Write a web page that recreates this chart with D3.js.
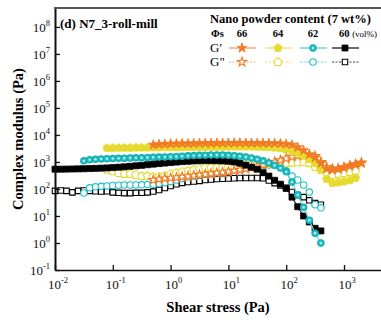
<!DOCTYPE html>
<html>
<head>
<meta charset="utf-8">
<script src="https://cdn.jsdelivr.net/npm/d3@7"></script>
<style>
  body { margin: 0; background: #fff; }
  svg { display: block; font-family: "Liberation Serif", "Times New Roman", serif; }
</style>
</head>
<body>
<div id="chart"></div>
<script>
const width = 381;
const height = 323;

// shear stress grid (Pa), 10 points per decade
const stress = [
  0.01, 0.0126, 0.0158, 0.02, 0.0251, 0.0316, 0.0398, 0.0501, 0.0631, 0.0794,
  0.1, 0.126, 0.158, 0.2, 0.251, 0.316, 0.398, 0.501, 0.631, 0.794,
  1, 1.26, 1.58, 2, 2.51, 3.16, 3.98, 5.01, 6.31, 7.94,
  10, 12.6, 15.8, 20, 25.1, 31.6, 39.8, 50.1, 63.1, 79.4,
  100, 126, 158, 200, 251, 316, 398, 501, 631, 794,
  1000, 1260, 1580, 2000
];

// modulus values (Pa); each list starts at index firstIndex[...] of stress
const gp66 = [4300, 4500, 4600, 4700, 4750, 4800, 4800, 4850, 4900, 4900,
  4950, 5000, 5000, 5000, 5050, 5050, 5000, 5000, 5000, 4950,
  4900, 4900, 4800, 4600, 4300, 3500, 2700, 1900, 1450, 900,
  550, 500, 550, 620, 720, 800, 900];
const gpp66 = [215, 230, 245, 255, 265, 280, 295, 310, 330, 350,
  370, 390, 410, 440, 470, 510, 560, 620, 690, 780,
  880, 1000, 1150, 1350, 1550, 1700, 1800, 1800, 1650, 1000,
  650, 560, 570, 630, 720, 820, 950];
const gp64 = [3300, 3300, 3350, 3350, 3350, 3400, 3400, 3400, 3450, 3450,
  3500, 3500, 3500, 3550, 3550, 3600, 3600, 3600, 3650, 3650,
  3650, 3700, 3700, 3700, 3700, 3700, 3650, 3600, 3500, 3400,
  3200, 2900, 2500, 2100, 1700, 1250, 900, 560, 230, 165,
  175, 190, 210, 255];
const gpp64 = [520, 450, 390, 360, 360, 330, 300, 300, 280, 280,
  300, 360, 390, 430, 470, 500, 550, 600, 620, 640,
  650, 670, 700, 730, 760, 780, 800, 850, 880, 900,
  910, 920, 940, 980, 980, 900, 650, 500, 390, 330,
  360, 390, 430, 470];
const gp62 = [1100, 1200, 1250, 1300, 1320, 1340, 1360, 1380, 1400, 1420,
  1440, 1460, 1490, 1510, 1530, 1560, 1600, 1640, 1680, 1720,
  1760, 1790, 1810, 1820, 1800, 1760, 1700, 1620, 1520, 1400,
  1250, 1100, 920, 750, 600, 430, 180, 60, 21, 7,
  2.3, 1.0];
const gpp62 = [71, 110, 120, 125, 130, 135, 138, 140, 140, 140,
  142, 145, 150, 158, 170, 190, 215, 245, 275, 305,
  330, 360, 390, 420, 440, 470, 510, 560, 610, 660,
  700, 740, 770, 780, 700, 470, 300, 215, 140, 77,
  26, 20];
const gp60 = [540, 540, 545, 550, 555, 560, 570, 580, 590, 600,
  620, 640, 660, 690, 720, 750, 790, 830, 870, 910,
  950, 990, 1030, 1060, 1090, 1110, 1120, 1120, 1110, 1090,
  1060, 1000, 900, 760, 640, 540, 400, 300, 210, 150,
  105, 50, 22, 10, 6, 3.5, 2.8];
const gpp60 = [85, 88, 85, 75, 85, 88, 85, 82, 80, 82,
  75, 72, 70, 70, 72, 72, 75, 80, 92, 108,
  128, 150, 168, 180, 190, 200, 215, 225, 235, 240,
  245, 250, 255, 255, 255, 255, 250, 205, 165, 135,
  110, 77, 60, 50, 38, 30, 26];

const phiLabels = ["66", "64", "62", "60"];
const firstIndex = [17, 9, 5, 0];
const xTicks = [1e-2, 1e-1, 1e0, 1e1, 1e2, 1e3];
const yTicks = [1e-1, 1e0, 1e1, 1e2, 1e3, 1e4, 1e5, 1e6, 1e7, 1e8];

const storage = [gp66, gp64, gp62, gp60];
const loss = [gpp66, gpp64, gpp62, gpp60];

const markColor = ["#f27a22", "#e6da2e", "#20c2c6", "#000000"];
const lineColor = ["#f6ab7c", "#eee47a", "#63d8da", "#3a3a3a"];
const markShape = ["star", "pentagon", "circle", "square"];

const svg = d3.select("#chart").append("svg")
  .attr("width", width)
  .attr("height", height);

const plotLeft = 55, plotRight = 381, plotTop = 8, plotBottom = 270;

const x = d3.scaleLog().domain([0.01, Math.pow(10, 3.64)]).range([plotLeft, plotRight]);
const y = d3.scaleLog().domain([0.1, Math.pow(10, 8.7)]).range([plotBottom, plotTop]);

// pentagon symbol
const pentagon = {
  draw(ctx, size) {
    const r = Math.sqrt(size / 2.378);
    for (let k = 0; k < 5; k++) {
      const a = -Math.PI / 2 + k * 2 * Math.PI / 5;
      const px = r * Math.cos(a), py = r * Math.sin(a);
      if (k === 0) ctx.moveTo(px, py); else ctx.lineTo(px, py);
    }
    ctx.closePath();
  }
};

function drawMarker(g, shape, filled, s, cx, cy) {
  const fill = filled ? markColor[s] : "#fff";
  const stroke = markColor[s];
  if (shape === "circle") {
    g.append("circle").attr("cx", cx).attr("cy", cy).attr("r", 3.2)
      .attr("fill", fill).attr("stroke", filled ? "#17a9ad" : stroke).attr("stroke-width", 1.1);
    if (filled) {
      g.append("circle").attr("cx", cx).attr("cy", cy).attr("r", 1.2).attr("fill", "#b8f0f0");
    }
    return;
  }
  let type, size;
  if (shape === "star") { type = d3.symbolStar; size = filled ? 30 : 26; }
  else if (shape === "pentagon") { type = pentagon; size = 44; }
  else { type = d3.symbolSquare; size = filled ? 36 : 30; }
  g.append("path")
    .attr("transform", `translate(${cx},${cy})`)
    .attr("d", d3.symbol().type(type).size(size)())
    .attr("fill", fill)
    .attr("stroke", stroke)
    .attr("stroke-width", filled ? 0.8 : 1.1);
}

// data layers
const plot = svg.append("g");

function seriesPoints(vals, s) {
  return vals.map((v, j) => [stress[firstIndex[s] + j], v]);
}

const line = d3.line().x(d => x(d[0])).y(d => y(d[1]));

[3, 2, 1, 0].forEach(s => {
  const pts = seriesPoints(loss[s], s);
  plot.append("path").datum(pts).attr("d", line)
    .attr("fill", "none").attr("stroke", lineColor[s])
    .attr("stroke-width", 0.9).attr("stroke-dasharray", "2,1.5");
  const g = plot.append("g");
  pts.forEach(d => drawMarker(g, markShape[s], false, s, x(d[0]), y(d[1])));
});

[3, 2, 1, 0].forEach(s => {
  const pts = seriesPoints(storage[s], s);
  plot.append("path").datum(pts).attr("d", line)
    .attr("fill", "none").attr("stroke", lineColor[s]).attr("stroke-width", 1.3);
  const g = plot.append("g");
  pts.forEach(d => drawMarker(g, markShape[s], true, s, x(d[0]), y(d[1])));
});

// axes
svg.append("g")
  .attr("transform", `translate(0,${plotBottom})`)
  .call(d3.axisBottom(x).tickValues(xTicks).tickSize(-5).tickSizeOuter(0).tickFormat(""))
  .call(g => g.select(".domain").attr("stroke", "#111").attr("stroke-width", 1.5))
  .call(g => g.selectAll(".tick line").attr("stroke", "#111").attr("stroke-width", 1.3));

svg.append("g")
  .attr("transform", `translate(${plotLeft},0)`)
  .call(d3.axisLeft(y).tickValues(yTicks).tickSize(-5).tickSizeOuter(0).tickFormat(""))
  .call(g => g.select(".domain").attr("stroke", "#111").attr("stroke-width", 2))
  .call(g => g.selectAll(".tick line").attr("stroke", "#111").attr("stroke-width", 1.3));

svg.append("line")
  .attr("x1", plotLeft - 1).attr("x2", plotRight).attr("y1", plotTop).attr("y2", plotTop)
  .attr("stroke", "#555").attr("stroke-width", 2.2);

// tick labels with superscript exponents
function powerLabel(g, v, px, py, anchor) {
  const t = g.append("text").attr("x", px).attr("y", py)
    .attr("text-anchor", anchor).attr("font-size", 13).attr("fill", "#111");
  t.append("tspan").text("10");
  t.append("tspan").attr("dy", -6).attr("font-size", 8.5).text(Math.round(Math.log10(v)));
}

const labels = svg.append("g");
xTicks.forEach(v => powerLabel(labels, v, x(v) + 3, plotBottom + 19, "middle"));
yTicks.forEach(v => powerLabel(labels, v, plotLeft - 5, y(v) + 5, "end"));

// axis titles
svg.append("text")
  .attr("transform", `translate(23,${(plotTop + plotBottom) / 2}) rotate(-90)`)
  .attr("text-anchor", "middle")
  .attr("font-size", 14.5).attr("font-weight", "bold")
  .text("Complex modulus (Pa)");

svg.append("text")
  .attr("x", (plotLeft + plotRight) / 2).attr("y", 312)
  .attr("text-anchor", "middle")
  .attr("font-size", 14.5).attr("font-weight", "bold")
  .text("Shear stress (Pa)");

svg.append("text")
  .attr("x", 60).attr("y", 28)
  .attr("font-size", 13).attr("font-weight", "bold")
  .text("(d) N7_3-roll-mill");

// legend
const legend = svg.append("g");
legend.append("text").attr("x", 210).attr("y", 23)
  .attr("font-size", 12.5).attr("font-weight", "bold")
  .text("Nano powder content (7 wt%)");

const phiText = legend.append("text").attr("x", 211).attr("y", 37)
  .attr("font-size", 10.5).attr("font-weight", "bold");
phiText.append("tspan").text("\u03A6");
phiText.append("tspan").text("s");

const legendCx = [242, 278, 313, 345];
phiLabels.forEach((p, s) => {
  const t = legend.append("text").attr("y", 37)
    .attr("font-size", 10.5).attr("font-weight", "bold");
  if (s < 3) {
    t.attr("x", legendCx[s]).attr("text-anchor", "middle").text(p);
  } else {
    t.attr("x", legendCx[s] - 6);
    t.append("tspan").text(p + " ");
    t.append("tspan").attr("font-size", 9).attr("font-weight", "normal").text("(vol%)");
  }
});

legend.append("text").attr("x", 210).attr("y", 52).attr("font-size", 13).text("G'");
legend.append("text").attr("x", 210).attr("y", 66).attr("font-size", 13).text("G\"");

phiLabels.forEach((p, s) => {
  const cx = legendCx[s];
  legend.append("line").attr("x1", cx - 13).attr("x2", cx + 14).attr("y1", 48).attr("y2", 48)
    .attr("stroke", lineColor[s]).attr("stroke-width", 1.5);
  drawMarker(legend, markShape[s], true, s, cx, 48);
  legend.append("line").attr("x1", cx - 13).attr("x2", cx + 14).attr("y1", 62).attr("y2", 62)
    .attr("stroke", lineColor[s]).attr("stroke-width", 1).attr("stroke-dasharray", "2,1.5");
  drawMarker(legend, markShape[s], false, s, cx, 62);
});
</script>
</body>
</html>
